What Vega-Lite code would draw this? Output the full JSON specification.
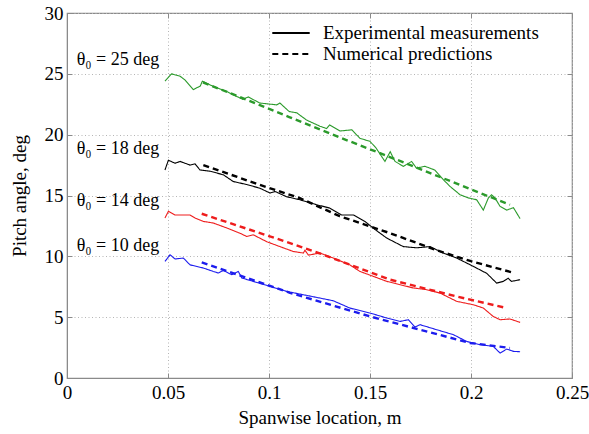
{
  "$schema": "https://vega.github.io/schema/vega-lite/v6.json",
  "width": 505,
  "height": 365,
  "autosize": {"type": "none"},
  "padding": {"left": 67, "top": 13, "right": 17, "bottom": 56},
  "background": "white",
  "config": {
    "view": {"stroke": "#8a8a8a", "strokeWidth": 1.2},
    "axis": {
      "domainColor": "#8a8a8a",
      "tickColor": "#8a8a8a",
      "tickSize": -5,
      "gridColor": "#b5b5b5",
      "gridDash": [1, 2.5],
      "gridWidth": 1,
      "labelFont": "Liberation Serif",
      "labelFontSize": 19,
      "labelColor": "#000",
      "titleFont": "Liberation Serif",
      "titleFontSize": 19,
      "titleFontWeight": "normal",
      "titleColor": "#000"
    },
    "legend": {
      "labelFont": "Liberation Serif",
      "labelFontSize": 19,
      "labelColor": "#000",
      "labelLimit": 400
    }
  },
  "datasets": {
    "curves": [
      {"series": "25", "type": "Experimental measurements", "x": 0.0485, "y": 24.4},
      {"series": "25", "type": "Experimental measurements", "x": 0.0518, "y": 25.0},
      {"series": "25", "type": "Experimental measurements", "x": 0.056, "y": 24.8},
      {"series": "25", "type": "Experimental measurements", "x": 0.0584, "y": 24.5},
      {"series": "25", "type": "Experimental measurements", "x": 0.0625, "y": 23.7},
      {"series": "25", "type": "Experimental measurements", "x": 0.066, "y": 24.0},
      {"series": "25", "type": "Experimental measurements", "x": 0.067, "y": 24.4},
      {"series": "25", "type": "Experimental measurements", "x": 0.072, "y": 24.0},
      {"series": "25", "type": "Experimental measurements", "x": 0.079, "y": 23.55},
      {"series": "25", "type": "Experimental measurements", "x": 0.087, "y": 22.9},
      {"series": "25", "type": "Experimental measurements", "x": 0.0897, "y": 23.1},
      {"series": "25", "type": "Experimental measurements", "x": 0.0955, "y": 22.6},
      {"series": "25", "type": "Experimental measurements", "x": 0.1038, "y": 22.45},
      {"series": "25", "type": "Experimental measurements", "x": 0.1054, "y": 22.6},
      {"series": "25", "type": "Experimental measurements", "x": 0.11, "y": 21.9},
      {"series": "25", "type": "Experimental measurements", "x": 0.1137, "y": 21.8},
      {"series": "25", "type": "Experimental measurements", "x": 0.1186, "y": 21.2},
      {"series": "25", "type": "Experimental measurements", "x": 0.1252, "y": 20.7},
      {"series": "25", "type": "Experimental measurements", "x": 0.1285, "y": 20.5},
      {"series": "25", "type": "Experimental measurements", "x": 0.13, "y": 20.8},
      {"series": "25", "type": "Experimental measurements", "x": 0.1351, "y": 20.3},
      {"series": "25", "type": "Experimental measurements", "x": 0.141, "y": 20.4},
      {"series": "25", "type": "Experimental measurements", "x": 0.145, "y": 19.7},
      {"series": "25", "type": "Experimental measurements", "x": 0.15, "y": 19.45},
      {"series": "25", "type": "Experimental measurements", "x": 0.153, "y": 18.9},
      {"series": "25", "type": "Experimental measurements", "x": 0.1574, "y": 17.8},
      {"series": "25", "type": "Experimental measurements", "x": 0.16, "y": 18.6},
      {"series": "25", "type": "Experimental measurements", "x": 0.1624, "y": 17.8},
      {"series": "25", "type": "Experimental measurements", "x": 0.1665, "y": 17.4},
      {"series": "25", "type": "Experimental measurements", "x": 0.1706, "y": 17.8},
      {"series": "25", "type": "Experimental measurements", "x": 0.173, "y": 17.25},
      {"series": "25", "type": "Experimental measurements", "x": 0.1772, "y": 17.4},
      {"series": "25", "type": "Experimental measurements", "x": 0.182, "y": 17.1},
      {"series": "25", "type": "Experimental measurements", "x": 0.1863, "y": 16.3},
      {"series": "25", "type": "Experimental measurements", "x": 0.1896, "y": 15.75},
      {"series": "25", "type": "Experimental measurements", "x": 0.1946, "y": 15.06},
      {"series": "25", "type": "Experimental measurements", "x": 0.1987, "y": 14.8},
      {"series": "25", "type": "Experimental measurements", "x": 0.2028, "y": 14.65},
      {"series": "25", "type": "Experimental measurements", "x": 0.2061, "y": 13.8},
      {"series": "25", "type": "Experimental measurements", "x": 0.2086, "y": 14.8},
      {"series": "25", "type": "Experimental measurements", "x": 0.2102, "y": 15.06},
      {"series": "25", "type": "Experimental measurements", "x": 0.2119, "y": 14.8},
      {"series": "25", "type": "Experimental measurements", "x": 0.2144, "y": 14.1},
      {"series": "25", "type": "Experimental measurements", "x": 0.2177, "y": 13.8},
      {"series": "25", "type": "Experimental measurements", "x": 0.221, "y": 14.0},
      {"series": "25", "type": "Experimental measurements", "x": 0.2243, "y": 13.1},

      {"series": "18", "type": "Experimental measurements", "x": 0.0485, "y": 17.1},
      {"series": "18", "type": "Experimental measurements", "x": 0.0502, "y": 17.9},
      {"series": "18", "type": "Experimental measurements", "x": 0.0535, "y": 17.65},
      {"series": "18", "type": "Experimental measurements", "x": 0.056, "y": 17.8},
      {"series": "18", "type": "Experimental measurements", "x": 0.0609, "y": 17.5},
      {"series": "18", "type": "Experimental measurements", "x": 0.0634, "y": 17.6},
      {"series": "18", "type": "Experimental measurements", "x": 0.0658, "y": 17.1},
      {"series": "18", "type": "Experimental measurements", "x": 0.0708, "y": 17.0},
      {"series": "18", "type": "Experimental measurements", "x": 0.0774, "y": 16.7},
      {"series": "18", "type": "Experimental measurements", "x": 0.0823, "y": 16.15},
      {"series": "18", "type": "Experimental measurements", "x": 0.089, "y": 15.9},
      {"series": "18", "type": "Experimental measurements", "x": 0.0955, "y": 15.6},
      {"series": "18", "type": "Experimental measurements", "x": 0.1005, "y": 15.2},
      {"series": "18", "type": "Experimental measurements", "x": 0.103, "y": 15.33},
      {"series": "18", "type": "Experimental measurements", "x": 0.1087, "y": 14.9},
      {"series": "18", "type": "Experimental measurements", "x": 0.1153, "y": 14.65},
      {"series": "18", "type": "Experimental measurements", "x": 0.1236, "y": 14.24},
      {"series": "18", "type": "Experimental measurements", "x": 0.13, "y": 13.97},
      {"series": "18", "type": "Experimental measurements", "x": 0.136, "y": 13.4},
      {"series": "18", "type": "Experimental measurements", "x": 0.1418, "y": 13.4},
      {"series": "18", "type": "Experimental measurements", "x": 0.1475, "y": 12.87},
      {"series": "18", "type": "Experimental measurements", "x": 0.1517, "y": 12.3},
      {"series": "18", "type": "Experimental measurements", "x": 0.1583, "y": 11.5},
      {"series": "18", "type": "Experimental measurements", "x": 0.1665, "y": 10.8},
      {"series": "18", "type": "Experimental measurements", "x": 0.1731, "y": 10.7},
      {"series": "18", "type": "Experimental measurements", "x": 0.1797, "y": 10.8},
      {"series": "18", "type": "Experimental measurements", "x": 0.1863, "y": 10.27},
      {"series": "18", "type": "Experimental measurements", "x": 0.1929, "y": 9.86},
      {"series": "18", "type": "Experimental measurements", "x": 0.2012, "y": 9.17},
      {"series": "18", "type": "Experimental measurements", "x": 0.2078, "y": 8.6},
      {"series": "18", "type": "Experimental measurements", "x": 0.2127, "y": 7.8},
      {"series": "18", "type": "Experimental measurements", "x": 0.216, "y": 7.94},
      {"series": "18", "type": "Experimental measurements", "x": 0.2184, "y": 8.2},
      {"series": "18", "type": "Experimental measurements", "x": 0.22, "y": 7.94},
      {"series": "18", "type": "Experimental measurements", "x": 0.2243, "y": 8.08},

      {"series": "14", "type": "Experimental measurements", "x": 0.0485, "y": 13.15},
      {"series": "14", "type": "Experimental measurements", "x": 0.0502, "y": 13.7},
      {"series": "14", "type": "Experimental measurements", "x": 0.0535, "y": 13.4},
      {"series": "14", "type": "Experimental measurements", "x": 0.0609, "y": 13.4},
      {"series": "14", "type": "Experimental measurements", "x": 0.0634, "y": 13.15},
      {"series": "14", "type": "Experimental measurements", "x": 0.0675, "y": 12.87},
      {"series": "14", "type": "Experimental measurements", "x": 0.0724, "y": 12.74},
      {"series": "14", "type": "Experimental measurements", "x": 0.0791, "y": 12.33},
      {"series": "14", "type": "Experimental measurements", "x": 0.0856, "y": 11.9},
      {"series": "14", "type": "Experimental measurements", "x": 0.089, "y": 11.63},
      {"series": "14", "type": "Experimental measurements", "x": 0.0922, "y": 11.77},
      {"series": "14", "type": "Experimental measurements", "x": 0.0989, "y": 11.2},
      {"series": "14", "type": "Experimental measurements", "x": 0.1054, "y": 10.8},
      {"series": "14", "type": "Experimental measurements", "x": 0.112, "y": 10.4},
      {"series": "14", "type": "Experimental measurements", "x": 0.117, "y": 10.27},
      {"series": "14", "type": "Experimental measurements", "x": 0.1178, "y": 10.5},
      {"series": "14", "type": "Experimental measurements", "x": 0.1195, "y": 10.1},
      {"series": "14", "type": "Experimental measurements", "x": 0.1252, "y": 10.27},
      {"series": "14", "type": "Experimental measurements", "x": 0.1318, "y": 9.86},
      {"series": "14", "type": "Experimental measurements", "x": 0.14, "y": 9.3},
      {"series": "14", "type": "Experimental measurements", "x": 0.145, "y": 8.76},
      {"series": "14", "type": "Experimental measurements", "x": 0.1517, "y": 8.35},
      {"series": "14", "type": "Experimental measurements", "x": 0.1583, "y": 7.94},
      {"series": "14", "type": "Experimental measurements", "x": 0.1649, "y": 7.67},
      {"series": "14", "type": "Experimental measurements", "x": 0.1714, "y": 7.4},
      {"series": "14", "type": "Experimental measurements", "x": 0.178, "y": 7.26},
      {"series": "14", "type": "Experimental measurements", "x": 0.1847, "y": 6.98},
      {"series": "14", "type": "Experimental measurements", "x": 0.1929, "y": 6.3},
      {"series": "14", "type": "Experimental measurements", "x": 0.2012, "y": 6.02},
      {"series": "14", "type": "Experimental measurements", "x": 0.2061, "y": 5.75},
      {"series": "14", "type": "Experimental measurements", "x": 0.211, "y": 5.06},
      {"series": "14", "type": "Experimental measurements", "x": 0.2144, "y": 4.79},
      {"series": "14", "type": "Experimental measurements", "x": 0.2193, "y": 4.85},
      {"series": "14", "type": "Experimental measurements", "x": 0.2243, "y": 4.57},

      {"series": "10", "type": "Experimental measurements", "x": 0.0485, "y": 9.58},
      {"series": "10", "type": "Experimental measurements", "x": 0.051, "y": 10.13},
      {"series": "10", "type": "Experimental measurements", "x": 0.0535, "y": 9.78},
      {"series": "10", "type": "Experimental measurements", "x": 0.0576, "y": 9.86},
      {"series": "10", "type": "Experimental measurements", "x": 0.0609, "y": 9.3},
      {"series": "10", "type": "Experimental measurements", "x": 0.0675, "y": 9.04},
      {"series": "10", "type": "Experimental measurements", "x": 0.0724, "y": 8.76},
      {"series": "10", "type": "Experimental measurements", "x": 0.0749, "y": 8.63},
      {"series": "10", "type": "Experimental measurements", "x": 0.0774, "y": 8.84},
      {"series": "10", "type": "Experimental measurements", "x": 0.0815, "y": 8.49},
      {"series": "10", "type": "Experimental measurements", "x": 0.0848, "y": 8.76},
      {"series": "10", "type": "Experimental measurements", "x": 0.0865, "y": 8.22},
      {"series": "10", "type": "Experimental measurements", "x": 0.0922, "y": 7.94},
      {"series": "10", "type": "Experimental measurements", "x": 0.1005, "y": 7.53},
      {"series": "10", "type": "Experimental measurements", "x": 0.1087, "y": 7.12},
      {"series": "10", "type": "Experimental measurements", "x": 0.1153, "y": 6.9},
      {"series": "10", "type": "Experimental measurements", "x": 0.1252, "y": 6.57},
      {"series": "10", "type": "Experimental measurements", "x": 0.1318, "y": 6.35},
      {"series": "10", "type": "Experimental measurements", "x": 0.14, "y": 5.75},
      {"series": "10", "type": "Experimental measurements", "x": 0.15, "y": 5.34},
      {"series": "10", "type": "Experimental measurements", "x": 0.1583, "y": 4.93},
      {"series": "10", "type": "Experimental measurements", "x": 0.1649, "y": 4.65},
      {"series": "10", "type": "Experimental measurements", "x": 0.169, "y": 4.79},
      {"series": "10", "type": "Experimental measurements", "x": 0.1723, "y": 4.19},
      {"series": "10", "type": "Experimental measurements", "x": 0.1748, "y": 4.38},
      {"series": "10", "type": "Experimental measurements", "x": 0.183, "y": 3.97},
      {"series": "10", "type": "Experimental measurements", "x": 0.1913, "y": 3.56},
      {"series": "10", "type": "Experimental measurements", "x": 0.1979, "y": 3.0},
      {"series": "10", "type": "Experimental measurements", "x": 0.2045, "y": 2.74},
      {"series": "10", "type": "Experimental measurements", "x": 0.211, "y": 2.6},
      {"series": "10", "type": "Experimental measurements", "x": 0.2144, "y": 2.05},
      {"series": "10", "type": "Experimental measurements", "x": 0.2177, "y": 2.38},
      {"series": "10", "type": "Experimental measurements", "x": 0.221, "y": 2.19},
      {"series": "10", "type": "Experimental measurements", "x": 0.2243, "y": 2.16},

      {"series": "25", "type": "Numerical predictions", "x": 0.0673, "y": 24.3},
      {"series": "25", "type": "Numerical predictions", "x": 0.09, "y": 22.8},
      {"series": "25", "type": "Numerical predictions", "x": 0.11, "y": 21.45},
      {"series": "25", "type": "Numerical predictions", "x": 0.14, "y": 19.45},
      {"series": "25", "type": "Numerical predictions", "x": 0.17, "y": 17.5},
      {"series": "25", "type": "Numerical predictions", "x": 0.2, "y": 15.5},
      {"series": "25", "type": "Numerical predictions", "x": 0.2193, "y": 14.24},

      {"series": "18", "type": "Numerical predictions", "x": 0.0675, "y": 17.5},
      {"series": "18", "type": "Numerical predictions", "x": 0.095, "y": 15.9},
      {"series": "18", "type": "Numerical predictions", "x": 0.115, "y": 14.8},
      {"series": "18", "type": "Numerical predictions", "x": 0.135, "y": 13.3},
      {"series": "18", "type": "Numerical predictions", "x": 0.16, "y": 11.9},
      {"series": "18", "type": "Numerical predictions", "x": 0.183, "y": 10.5},
      {"series": "18", "type": "Numerical predictions", "x": 0.2, "y": 9.6},
      {"series": "18", "type": "Numerical predictions", "x": 0.22, "y": 8.7},

      {"series": "14", "type": "Numerical predictions", "x": 0.0667, "y": 13.5},
      {"series": "14", "type": "Numerical predictions", "x": 0.1104, "y": 11.09},
      {"series": "14", "type": "Numerical predictions", "x": 0.1269, "y": 10.13},
      {"series": "14", "type": "Numerical predictions", "x": 0.16, "y": 8.08},
      {"series": "14", "type": "Numerical predictions", "x": 0.1929, "y": 6.7},
      {"series": "14", "type": "Numerical predictions", "x": 0.2177, "y": 5.75},

      {"series": "10", "type": "Numerical predictions", "x": 0.0667, "y": 9.5},
      {"series": "10", "type": "Numerical predictions", "x": 0.1104, "y": 7.0},
      {"series": "10", "type": "Numerical predictions", "x": 0.15, "y": 5.06},
      {"series": "10", "type": "Numerical predictions", "x": 0.1995, "y": 2.88},
      {"series": "10", "type": "Numerical predictions", "x": 0.2193, "y": 2.47}
    ],
    "labels": [
      {"x": 0.0048, "y": 25.74, "text": "θ₀ = 25 deg"},
      {"x": 0.0048, "y": 18.43, "text": "θ₀ = 18 deg"},
      {"x": 0.0048, "y": 14.1, "text": "θ₀ = 14 deg"},
      {"x": 0.0048, "y": 10.4, "text": "θ₀ = 10 deg"}
    ]
  },
  "layer": [
    {
      "data": {"name": "curves"},
      "transform": [{"filter": "datum.type === 'Experimental measurements'"}],
      "mark": {"type": "line", "strokeWidth": 1.1, "clip": true},
      "encoding": {
        "x": {"field": "x", "type": "quantitative", "scale": {"domain": [0, 0.25], "nice": false},
              "axis": {"values": [0, 0.05, 0.1, 0.15, 0.2, 0.25], "title": "Spanwise location, m", "labelPadding": 10, "titlePadding": 6, "format": "~g", "labelFlush": false}},
        "y": {"field": "y", "type": "quantitative", "scale": {"domain": [0, 30], "nice": false},
              "axis": {"values": [0, 5, 10, 15, 20, 25, 30], "title": "Pitch angle, deg", "labelPadding": 9, "titlePadding": 15, "labelFlush": false}},
        "color": {"field": "series", "type": "nominal", "scale": {"domain": ["25", "18", "14", "10"], "range": ["#2b9a2b", "#000000", "#ee1c1c", "#1c1cee"]}, "legend": null},
        "strokeDash": {"field": "type", "type": "nominal",
          "scale": {"domain": ["Experimental measurements", "Numerical predictions"], "range": [[1, 0], [6, 4]]},
          "legend": {"title": null, "orient": "none", "legendX": 204, "legendY": 10, "symbolType": "stroke", "symbolSize": 1400, "symbolStrokeWidth": 2, "symbolStrokeColor": "black", "labelOffset": 12, "rowPadding": 1, "clipHeight": 20}},
        "detail": {"field": "series"}
      }
    },
    {
      "data": {"name": "curves"},
      "transform": [{"filter": "datum.type === 'Numerical predictions'"}],
      "mark": {"type": "line", "strokeWidth": 2.4, "clip": true},
      "encoding": {
        "x": {"field": "x", "type": "quantitative", "axis": {"orient": "top", "values": [0, 0.05, 0.1, 0.15, 0.2, 0.25], "labels": false, "title": null, "grid": false, "domain": false}},
        "y": {"field": "y", "type": "quantitative", "axis": {"orient": "right", "values": [0, 5, 10, 15, 20, 25, 30], "labels": false, "title": null, "grid": false, "domain": false}},
        "color": {"field": "series", "type": "nominal", "legend": null},
        "strokeDash": {"field": "type", "type": "nominal"},
        "detail": {"field": "series"}
      }
    },
    {
      "data": {"name": "labels"},
      "mark": {"type": "text", "align": "left", "baseline": "alphabetic", "font": "Liberation Serif", "fontSize": 18, "color": "#000"},
      "encoding": {
        "x": {"field": "x", "type": "quantitative", "axis": null},
        "y": {"field": "y", "type": "quantitative", "axis": null},
        "text": {"field": "text"}
      }
    }
  ],
  "resolve": {"axis": {"x": "independent", "y": "independent"}}
}
